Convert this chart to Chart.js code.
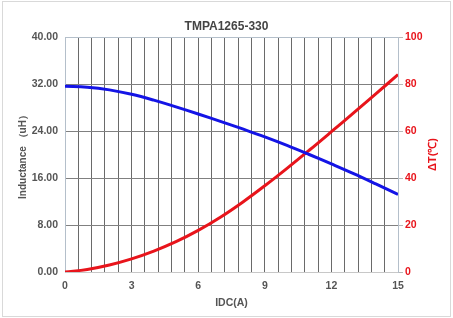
<!DOCTYPE html>
<html>
<head>
<meta charset="utf-8">
<script src="https://cdn.jsdelivr.net/npm/chart.js@4/dist/chart.umd.min.js"></script>
<style>
  html, body { margin: 0; padding: 0; background: #fff; }
  #wrap { position: relative; width: 453px; height: 318px; }
</style>
</head>
<body>
<div id="wrap"><canvas id="c" width="453" height="318"></canvas></div>
<script>
// ---- data ----
const current = [0, 1, 2, 3, 4, 5, 6, 7, 8, 9, 10, 11, 12, 13, 14, 15];           // IDC(A)
const inductance = [31.6, 31.45, 31.0, 30.25, 29.25, 28.1, 26.9, 25.65, 24.35, 23.0, 21.55, 20.0, 18.4, 16.75, 15.0, 13.2]; // uH
const deltaT = [0, 1.1, 3.0, 5.6, 8.9, 12.9, 17.7, 23.3, 29.7, 36.7, 44.1, 51.8, 59.7, 67.7, 75.8, 84.0]; // ΔT(℃)
const xTickLabels = [0, 3, 6, 9, 12, 15];
const leftTicks = [0, 8, 16, 24, 32, 40];
const rightTicks = [0, 20, 40, 60, 80, 100];

const FONT = "'Liberation Sans', Arial, sans-serif";
const GREY = '#555';
const RED = '#e8141b';
const BLUE = '#1414e6';
const EDGE = '#b4bfca';

const frame = {
  id: 'frame',
  beforeDraw(chart) {
    const ctx = chart.ctx;
    ctx.save();
    ctx.strokeStyle = '#d9d9d9';
    ctx.lineWidth = 1;
    ctx.strokeRect(2.5, 1.5, 448, 315);
    ctx.restore();
  },
  afterDraw(chart) {
    const ctx = chart.ctx;
    const a = chart.chartArea;
    ctx.save();
    ctx.translate(433, (a.top + a.bottom) / 2);
    ctx.rotate(-Math.PI / 2);
    ctx.fillStyle = RED;
    ctx.font = "bold 11px " + FONT;
    ctx.textAlign = 'center';
    ctx.textBaseline = 'middle';
    ctx.fillText('ΔT(℃)', 0, 0);
    ctx.restore();
  }
};

const isMult = (v, s) => Math.abs(v / s - Math.round(v / s)) < 1e-6;

new Chart(document.getElementById('c'), {
  type: 'line',
  data: {
    datasets: [
      {
        label: 'Inductance',
        data: current.map((x, i) => ({ x, y: inductance[i] })),
        borderColor: BLUE,
        borderWidth: 3,
        pointRadius: 0,
        tension: 0.4,
        yAxisID: 'y'
      },
      {
        label: 'ΔT',
        data: current.map((x, i) => ({ x, y: deltaT[i] })),
        borderColor: RED,
        borderWidth: 3,
        pointRadius: 0,
        tension: 0.4,
        yAxisID: 'y2'
      }
    ]
  },
  options: {
    responsive: false,
    animation: false,
    layout: { padding: 0 },
    plugins: {
      legend: { display: false },
      tooltip: { enabled: false },
      title: {
        display: true,
        text: 'TMPA1265-330',
        color: '#444',
        font: { family: FONT, size: 12, weight: 'bold' },
        padding: { top: 19.5, bottom: 3.1 }
      }
    },
    scales: {
      x: {
        type: 'linear',
        min: 0, max: 15,
        afterFit(s) { s.height = 46; },
        ticks: {
          stepSize: 0.6,
          autoSkip: false,
          maxRotation: 0,
          padding: 7.5,
          color: GREY,
          font: { family: FONT, size: 10.5, weight: 'bold' },
          callback(v) { return isMult(v, 3) && xTickLabels.includes(Math.round(v)) ? String(Math.round(v)) : ''; }
        },
        grid: {
          drawTicks: false,
          color(ctx) {
            const v = ctx.tick ? ctx.tick.value : 0;
            return (v <= 0.001 || v >= 14.999) ? EDGE : '#6a6a6a';
          }
        },
        border: { display: true, color: '#c8c8c8' },
        title: {
          display: true,
          text: 'IDC(A)',
          color: GREY,
          font: { family: FONT, size: 10.5, weight: 'bold' },
          padding: { top: 0, bottom: 8.5 }
        }
      },
      y: {
        position: 'left',
        min: 0, max: 40,
        afterFit(s) { s.width = 65; },
        afterBuildTicks(s) { s.ticks = leftTicks.map(v => ({ value: v })); },
        ticks: {
          padding: 7,
          color: GREY,
          font: { family: FONT, size: 10.5, weight: 'bold' },
          callback(v) { return Number(v).toFixed(2); }
        },
        grid: {
          drawTicks: false,
          color(ctx) {
            const v = ctx.tick ? ctx.tick.value : 0;
            return (v <= 0 || v >= 40) ? EDGE : '#808080';
          }
        },
        border: { display: true, color: EDGE },
        title: {
          display: true,
          text: 'Inductance （uH）',
          color: GREY,
          font: { family: FONT, size: 10, weight: 'bold' },
          padding: { top: 17.5, bottom: 0 }
        }
      },
      y2: {
        position: 'right',
        min: 0, max: 100,
        afterFit(s) { s.width = 55; },
        afterBuildTicks(s) { s.ticks = rightTicks.map(v => ({ value: v })); },
        ticks: {
          padding: 2,
          color: RED,
          font: { family: FONT, size: 10.5, weight: 'bold' },
          callback(v) { return String(v); }
        },
        grid: {
          drawOnChartArea: false,
          drawTicks: true,
          tickLength: 5,
          color: '#b8b8b8'
        },
        border: { display: true, color: EDGE }
      }
    }
  },
  plugins: [frame]
});
</script>
</body>
</html>
